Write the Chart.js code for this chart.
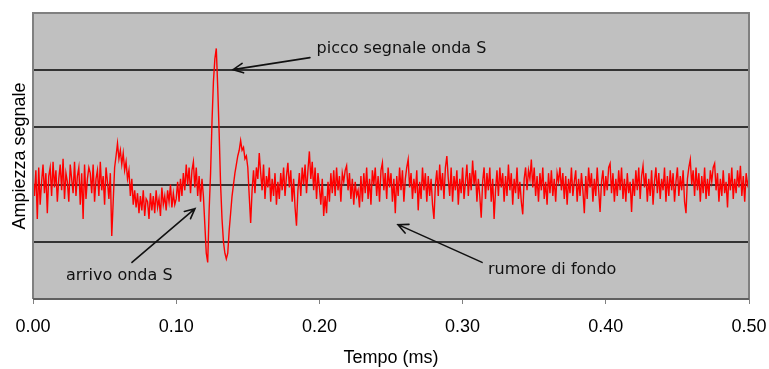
<!DOCTYPE html>
<html>
<head>
<meta charset="utf-8">
<script src="https://cdn.jsdelivr.net/npm/chart.js@4.4.0/dist/chart.umd.min.js"></script>
<style>
  html, body { margin: 0; padding: 0; background: #fff; }
  #wrap { width: 769px; height: 369px; }
</style>
</head>
<body>
<div id="wrap"><canvas id="chart" width="769" height="369"></canvas></div>
<script>
// DATA
const tStart = 0.0;      // ms
const tStep = 0.001;     // ms, sampling step
const xTicks = [0.0, 0.1, 0.2, 0.3, 0.4, 0.5];
const yRange = [-2, 3];  // grid units (no labels on the axis)

// signal amplitude, one sample per 0.001 ms
const signal = [
  0.1, -0.2, 0.25, -0.6, 0.3, -0.35, 0.05, 0.35, -0.15, 0.2, -0.5, 0.15, 0.3, -0.2, 0.4, -0.05, 0.25, -0.3, 0.1, 0.35,
  -0.1, 0.45, -0.25, 0.2, 0.05, -0.3, 0.35, 0.1, -0.15, 0.4, -0.2, 0.15, 0.3, -0.35, 0.2, -0.6, 0.35, -0.25, 0.1, 0.3,
  0.2, -0.15, 0.35, -0.3, 0.1, 0.25, -0.2, 0.4, -0.1, 0.15, -0.35, 0.3, 0.05, -0.25, 0.2, -0.9, -0.3, 0.3, 0.5, 0.72,
  0.45, 0.6, 0.35, 0.55, 0.25, 0.4, 0.1, 0.25, -0.2, 0.1, -0.35, -0.1, -0.4, -0.15, -0.5, -0.2, -0.45, -0.1, -0.55, -0.25,
  -0.3, -0.6, -0.15, -0.45, -0.2, -0.5, -0.1, -0.4, -0.25, -0.55, -0.05, -0.35, -0.2, -0.45, -0.1, -0.3, 0.0, -0.4, -0.15, -0.35,
  -0.25, 0.05, -0.3, 0.1, -0.2, 0.2, -0.1, 0.35, 0.0, 0.3, -0.15, 0.25, 0.4, -0.05, 0.3, -0.2, 0.15, -0.3, 0.1, -0.2,
  -0.7, -1.2, -1.36, -0.45, 0.2, 1.1, 1.8, 2.2, 2.38, 1.7, 0.9, 0.0, -0.6, -1.0, -1.2, -1.3, -1.2, -0.8, -0.5, -0.2,
  0.0, 0.2, 0.35, 0.5, 0.6, 0.77, 0.6, 0.65, 0.45, 0.5,
  0.3, -0.2, -0.67, -0.1, 0.25, -0.15, 0.3, 0.1, 0.55, 0.2, -0.1, 0.35, -0.25, 0.15, -0.05, 0.3, -0.3, 0.1, -0.2, 0.2,
  -0.35, 0.05, -0.25, 0.2, -0.1, 0.3, -0.2, 0.15, 0.38, -0.05, 0.25, -0.3, 0.1, -0.4, -0.72, -0.1, 0.2, -0.2, 0.3, 0.0,
  0.35, -0.15, 0.25, 0.58, 0.1, 0.4, -0.1, 0.3, -0.25, 0.2, -0.05, -0.35, 0.1, -0.55, -0.2, -0.5, 0.05, -0.3, 0.2, -0.15,
  0.25, -0.2, 0.3, -0.1, 0.15, -0.3, 0.2, 0.05, 0.25, 0.33, -0.1, 0.2, -0.25, 0.1, -0.35, 0.05, -0.2, -0.1, -0.4, 0.15,
  -0.3, 0.2, -0.15, 0.3, -0.25, 0.1, -0.35, 0.25, 0.0, 0.3, -0.2, 0.15, -0.3, 0.25, 0.38, -0.1, 0.2, -0.25, 0.3, -0.05,
  0.2, -0.3, 0.1, -0.5, 0.15, -0.2, 0.3, -0.1, 0.25, -0.3, 0.1, 0.3, 0.44, -0.05, 0.2, -0.25, 0.1, -0.15, 0.25, -0.45,
  0.05, -0.25, 0.3, -0.1, 0.2, -0.3, 0.15, -0.2, 0.1, -0.35, -0.6, 0.0, 0.25, -0.2, 0.35, -0.1, 0.2, -0.25, 0.3, 0.5,
  0.1, -0.2, 0.3, -0.3, 0.15, -0.1, 0.25, -0.35, 0.1, -0.15, 0.3, -0.25, 0.05, 0.35, -0.2, 0.2, -0.1, 0.42, 0.0, 0.25,
  -0.3, 0.1, -0.2, -0.58, 0.05, 0.3, -0.25, 0.2, -0.1, 0.3, -0.3, 0.1, -0.6, -0.1, 0.25, -0.2, 0.3, -0.05, 0.2, -0.3,
  0.15, -0.2, 0.35, -0.1, 0.2, -0.35, 0.1, -0.15, 0.3, -0.25, 0.05, -0.3, -0.52, 0.1, 0.3, -0.1, 0.25, 0.1, 0.44, -0.05,
  0.3, -0.2, 0.15, -0.3, 0.2, -0.1, 0.3, -0.25, 0.05, -0.35, 0.2, -0.15, 0.25, -0.2, 0.1, -0.3, 0.2, 0.05, 0.3, -0.1,
  0.2, -0.25, 0.15, -0.35, 0.1, -0.15, 0.3, -0.2, 0.05, 0.25, -0.3, 0.1, -0.2, 0.2, -0.1, -0.5, 0.15, -0.25, 0.3, -0.05,
  0.2, -0.3, 0.1, -0.2, 0.3, -0.1, -0.48, 0.05, 0.25, -0.2, 0.15, -0.1, 0.3, 0.37, -0.15, 0.2, -0.3, 0.1, -0.2, 0.25,
  -0.1, 0.3, -0.25, 0.1, -0.3, 0.2, -0.15, 0.05, -0.48, 0.1, -0.2, 0.25, -0.1, 0.3, -0.25, 0.15, 0.33, -0.05, 0.2, -0.3,
  0.1, -0.2, 0.25, -0.35, 0.05, 0.3, -0.15, 0.2, -0.25, 0.1, -0.1, 0.3, -0.3, 0.15, -0.2, 0.25, -0.1, 0.2, -0.3, 0.05,
  0.3, -0.2, 0.15, -0.1, 0.25, -0.3, -0.5, 0.1, 0.3, 0.44, 0.0, 0.25, -0.2, 0.3, -0.1, 0.2, -0.3, 0.15, -0.15, 0.3,
  -0.25, 0.1, -0.2, 0.25, 0.05, 0.3, 0.37, -0.1, 0.2, -0.3, 0.1, -0.2, 0.25, -0.15, 0.05, -0.4, 0.2, -0.1, 0.3, -0.25,
  0.1, -0.15, 0.25, -0.05, 0.33, -0.2, 0.15, -0.3, 0.2, 0.0, 0.1
];

// annotations: text anchor + arrow (tail -> tip), in data units (ms, amplitude)
const notes = [
  { text: 'picco segnale onda S', at: [0.198, 2.38], from: [0.1934, 2.22], to: [0.1397, 2.01] },
  { text: 'arrivo onda S',        at: [0.023, -1.59], from: [0.0691, -1.36], to: [0.1131, -0.42] },
  { text: 'rumore di fondo',      at: [0.3177, -1.49], from: [0.3136, -1.36], to: [0.2549, -0.70] }
];

const points = signal.map((v, i) => ({ x: tStart + i * tStep, y: v }));

// grey plot background + frame
const plotFrame = {
  id: 'plotFrame',
  beforeDraw(chart) {
    const { ctx, chartArea: a } = chart;
    ctx.save();
    ctx.fillStyle = '#c0c0c0';
    ctx.fillRect(a.left, a.top, a.right - a.left, a.bottom - a.top);
    ctx.restore();
  },
  afterDatasetsDraw(chart) {
    const { ctx, chartArea: a } = chart;
    ctx.save();
    ctx.strokeStyle = '#808080';
    ctx.lineWidth = 2;
    ctx.beginPath();
    ctx.moveTo(a.left, a.bottom);
    ctx.lineTo(a.left, a.top);
    ctx.lineTo(a.right, a.top);
    ctx.lineTo(a.right, a.bottom);
    ctx.stroke();
    ctx.strokeStyle = '#606060';
    ctx.beginPath();
    ctx.moveTo(a.left, a.bottom);
    ctx.lineTo(a.right, a.bottom);
    ctx.stroke();
    ctx.restore();
  }
};

// text + arrows
const callouts = {
  id: 'callouts',
  afterDraw(chart) {
    const { ctx } = chart;
    const sx = chart.scales.x, sy = chart.scales.y;
    const px = p => [sx.getPixelForValue(p[0]), sy.getPixelForValue(p[1])];
    ctx.save();
    ctx.fillStyle = '#111';
    ctx.strokeStyle = '#111';
    ctx.lineWidth = 1.6;
    ctx.lineCap = 'round';
    ctx.font = '16px "DejaVu Sans"';
    ctx.textBaseline = 'middle';
    ctx.textAlign = 'left';
    notes.forEach(n => {
      const [tx, ty] = px(n.at);
      ctx.fillText(n.text, tx, ty);
      const [x1, y1] = px(n.from);
      const [x2, y2] = px(n.to);
      ctx.beginPath();
      ctx.moveTo(x1, y1);
      ctx.lineTo(x2, y2);
      const ang = Math.atan2(y1 - y2, x1 - x2);
      const len = 11, spread = 0.45;
      ctx.moveTo(x2 + len * Math.cos(ang - spread), y2 + len * Math.sin(ang - spread));
      ctx.lineTo(x2, y2);
      ctx.lineTo(x2 + len * Math.cos(ang + spread), y2 + len * Math.sin(ang + spread));
      ctx.stroke();
    });
    ctx.restore();
  }
};

new Chart(document.getElementById('chart'), {
  type: 'line',
  data: {
    datasets: [{
      data: points,
      borderColor: '#ff0000',
      borderWidth: 1.4,
      pointRadius: 0,
      tension: 0,
      fill: false
    }]
  },
  options: {
    responsive: false,
    animation: false,
    layout: { padding: { top: 13, right: 20, left: 0, bottom: 0 } },
    plugins: { legend: { display: false }, tooltip: { enabled: false } },
    scales: {
      x: {
        type: 'linear',
        min: xTicks[0],
        max: xTicks[xTicks.length - 1],
        afterBuildTicks(scale) { scale.ticks = xTicks.map(v => ({ value: v })); },
        afterFit(scale) {
          scale.height = 70;
          scale.paddingLeft = 0;
          scale.paddingRight = 0;
        },
        ticks: {
          color: '#000',
          font: { family: '"Liberation Sans", Arial, sans-serif', size: 18 },
          padding: 12,
          maxRotation: 0,
          callback: v => Number(v).toFixed(2)
        },
        grid: { drawOnChartArea: false, drawTicks: true, tickLength: 5, color: '#808080' },
        border: { display: false },
        title: {
          display: true,
          text: 'Tempo (ms)',
          color: '#000',
          font: { family: '"Liberation Sans", Arial, sans-serif', size: 18 },
          padding: { top: 1, bottom: 0 }
        }
      },
      y: {
        min: yRange[0],
        max: yRange[1],
        afterFit(scale) { scale.width = 33; },
        ticks: { display: false, stepSize: 1 },
        grid: {
          drawTicks: false,
          lineWidth: 2,
          color: ctx => (ctx.tick.value === yRange[0] || ctx.tick.value === yRange[1]) ? 'rgba(0,0,0,0)' : '#333'
        },
        border: { display: false },
        title: {
          display: true,
          text: 'Ampiezza segnale',
          color: '#000',
          font: { family: '"Liberation Sans", Arial, sans-serif', size: 18 },
          padding: { top: 9, bottom: 0 }
        }
      }
    }
  },
  plugins: [plotFrame, callouts]
});
</script>
</body>
</html>
